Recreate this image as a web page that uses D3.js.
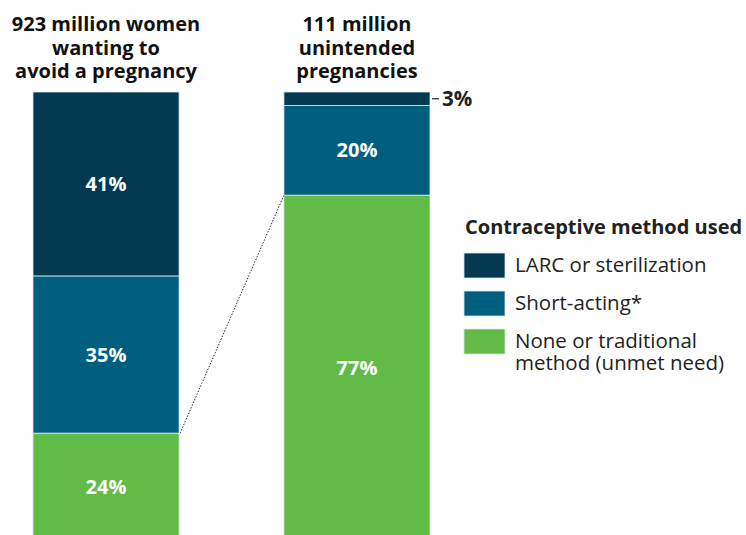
<!DOCTYPE html>
<html>
<head>
<meta charset="utf-8">
<script src="https://cdn.jsdelivr.net/npm/d3@7"></script>
<style>
  html, body { margin: 0; padding: 0; background: #fff; }
  svg { display: block; }
  text { font-family: "Open Sans", Roboto, sans-serif; }
</style>
</head>
<body>
<svg id="chart" width="746" height="535"></svg>
<script>
// Share of women wanting to avoid pregnancy, and of unintended pregnancies, by contraceptive method
const methods = ["LARC or sterilization", "Short-acting*", "None or traditional method (unmet need)"];
const legendLines = [["LARC or sterilization"], ["Short-acting*"], ["None or traditional", "method (unmet need)"]];
const colors = ["#033a52", "#005f7e", "#62bb47"];
const groups = ["women", "pregnancies"];
const groupTitles = [
  ["923 million women", "wanting to", "avoid a pregnancy"],
  ["111 million", "unintended", "pregnancies"]
];
const womenShares = [41, 35, 24];
const pregnancyShares = [3, 20, 77];

const svg = d3.select("#chart");

const x = d3.scaleBand().domain(groups).range([33, 430]).paddingInner(0.418).paddingOuter(0);
const y = d3.scaleLinear().domain([0, 100]).range([541, 92]);

const seriesByGroup = [womenShares, pregnancyShares];

// stacked bars (top segment first: LARC, then short-acting, then none)
groups.forEach((g, gi) => {
  const vals = seriesByGroup[gi];
  let top = 100;
  const segs = vals.map((v, i) => {
    const s = { g, i, v, y0: top - v, y1: top };
    top -= v;
    return s;
  });
  const gEl = svg.append("g");
  gEl.selectAll("rect").data(segs).join("rect")
    .attr("x", x(g))
    .attr("width", x.bandwidth())
    .attr("y", d => y(d.y1))
    .attr("height", d => y(d.y0) - y(d.y1))
    .attr("fill", d => colors[d.i])
    .attr("stroke", "#d8e6ea")
    .attr("stroke-width", 0.8);

  gEl.selectAll("text.val").data(segs.filter(d => d.v >= 10)).join("text")
    .attr("class", "val")
    .attr("x", x(g) + x.bandwidth() / 2)
    .attr("y", d => (y(d.y0) + y(d.y1)) / 2 + 7)
    .attr("text-anchor", "middle")
    .attr("fill", "#fff")
    .attr("font-weight", 700)
    .attr("font-size", 20)
    .text(d => d.v + "%");

  // group titles, one text per line
  groupTitles[gi].forEach((line, li) => {
    svg.append("text")
      .attr("x", x(g) + x.bandwidth() / 2)
      .attr("y", 31 + li * 23.5)
      .attr("text-anchor", "middle")
      .attr("font-weight", 700)
      .attr("font-size", 20)
      .attr("fill", "#111")
      .text(line);
  });
});

// small-segment callout on the right bar
const small = pregnancyShares[0];
const smallMid = y(100 - small / 2);
const rightEdge = x("pregnancies") + x.bandwidth();
svg.append("line")
  .attr("x1", rightEdge + 2).attr("x2", rightEdge + 9)
  .attr("y1", smallMid).attr("y2", smallMid)
  .attr("stroke", "#222").attr("stroke-width", 1.2);
svg.append("text")
  .attr("x", rightEdge + 12)
  .attr("y", smallMid + 7)
  .attr("font-weight", 700)
  .attr("font-size", 20.5)
  .attr("fill", "#222")
  .text(small + "%");

// dotted connector: unmet-need segment of the women bar to the pregnancies bar
svg.append("line")
  .attr("x1", x("women") + x.bandwidth() + 1)
  .attr("y1", y(womenShares[2]))
  .attr("x2", x("pregnancies"))
  .attr("y2", y(pregnancyShares[2]))
  .attr("stroke", "#333")
  .attr("stroke-width", 1)
  .attr("stroke-dasharray", "1.5,1.5");

// legend
const lg = svg.append("g").attr("transform", "translate(464,0)");
lg.append("text")
  .attr("x", 1).attr("y", 234)
  .attr("font-weight", 700)
  .attr("font-size", 20)
  .attr("fill", "#222")
  .text("Contraceptive method used");
const swTops = [253, 291, 329];
methods.forEach((m, i) => {
  lg.append("rect")
    .attr("x", 0).attr("y", swTops[i])
    .attr("width", 41).attr("height", 25)
    .attr("fill", colors[i])
    .attr("stroke", "#d8e6ea").attr("stroke-width", 0.8);
  legendLines[i].forEach((line, li) => {
    lg.append("text")
      .attr("x", 51)
      .attr("y", swTops[i] + 19 + li * 21.5)
      .attr("font-size", 20.5)
      .attr("fill", "#222")
      .text(line);
  });
});
</script>
</body>
</html>
